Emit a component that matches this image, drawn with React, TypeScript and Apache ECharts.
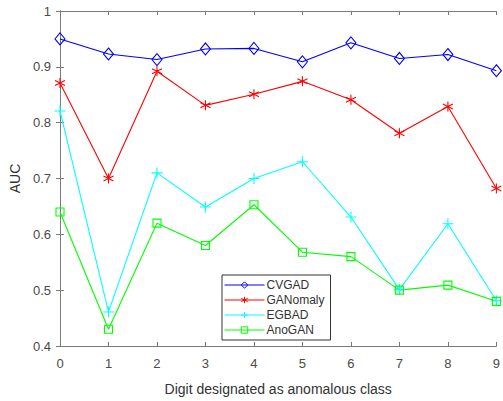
import React, { useEffect, useRef } from "react";
import * as echarts from "echarts";

const digits = [0, 1, 2, 3, 4, 5, 6, 7, 8, 9];
const cvgad = [0.95, 0.923, 0.913, 0.932, 0.933, 0.909, 0.943, 0.915, 0.922, 0.893];
const ganomaly = [0.871, 0.7, 0.892, 0.831, 0.851, 0.874, 0.841, 0.781, 0.829, 0.682];
const egbad = [0.821, 0.461, 0.71, 0.649, 0.7, 0.73, 0.631, 0.501, 0.619, 0.481];
const anogan = [0.64, 0.43, 0.62, 0.58, 0.653, 0.568, 0.56, 0.5, 0.509, 0.48];

const FONT = "Liberation Sans, Arial, sans-serif";
const AXIS = "#7a7a7a";
const LABEL = "#4a4a4a";

const STAR = "path://M0,-5L0,5M-4.33,-2.5L4.33,2.5M-4.33,2.5L4.33,-2.5";
const PLUS = "path://M0,-5L0,5M-5,0L5,0";

function mk(name: string, vals: number[], color: string, symbol: string, size: number | number[]) {
  return {
    name,
    type: "line",
    data: digits.map((d, i) => [d, vals[i]]),
    symbol,
    symbolSize: size,
    showAllSymbol: true,
    lineStyle: { color, width: 1.1 },
    itemStyle: { color: "rgba(255,255,255,0)", borderColor: color, borderWidth: 1.1 },
    emphasis: { disabled: true },
    z: 3,
  };
}

export default function App() {
  const ref = useRef<HTMLDivElement>(null);
  useEffect(() => {
    const chart = echarts.init(ref.current!, null, { renderer: "svg" });
    const fmt = (v: number) => (Math.round(v * 10) / 10).toString();
    chart.setOption({
      animation: false,
      backgroundColor: "#ffffff",
      textStyle: { fontFamily: FONT },
      grid: { left: 60, right: 6, top: 11, bottom: 46, containLabel: false },
      legend: {
        orient: "vertical",
        left: 222,
        top: 275,
        width: 110,
        padding: [4, 6, 4, 2],
        itemWidth: 40,
        itemHeight: 8,
        itemGap: 3,
        borderColor: "#333333",
        borderWidth: 1,
        backgroundColor: "#ffffff",
        lineStyle: { width: 1 },
        itemStyle: { borderWidth: 1 },
        textStyle: { fontFamily: FONT, fontSize: 12, color: "#333333", padding: [0, 0, 0, -3] },
        data: ["CVGAD", "GANomaly", "EGBAD", "AnoGAN"],
      },
      xAxis: [
        {
          type: "value",
          min: 0,
          max: 9,
          interval: 1,
          name: "Digit designated as anomalous class",
          nameLocation: "middle",
          nameGap: 36,
          nameTextStyle: { fontFamily: FONT, fontSize: 14, color: "#333333" },
          axisLine: { lineStyle: { color: AXIS, width: 1 } },
          axisTick: { inside: true, length: 4, lineStyle: { color: AXIS } },
          axisLabel: { color: LABEL, fontSize: 13, fontFamily: FONT, margin: 11 },
          splitLine: { show: false },
        },
        {
          type: "value",
          position: "top",
          min: 0,
          max: 9,
          interval: 1,
          axisLine: { show: true, lineStyle: { color: AXIS, width: 1 } },
          axisTick: { show: true, inside: true, length: 4, lineStyle: { color: AXIS } },
          axisLabel: { show: false },
          splitLine: { show: false },
        },
      ],
      yAxis: [
        {
          type: "value",
          min: 0.4,
          max: 1,
          interval: 0.1,
          name: "AUC",
          nameLocation: "middle",
          nameGap: 29,
          nameTextStyle: { fontFamily: FONT, fontSize: 14, color: "#333333" },
          axisLine: { show: true, lineStyle: { color: AXIS, width: 1 } },
          axisTick: { show: true, inside: true, length: 4, lineStyle: { color: AXIS } },
          axisLabel: { color: LABEL, fontSize: 13, fontFamily: FONT, margin: 9, formatter: fmt },
          splitLine: { show: false },
        },
        {
          type: "value",
          position: "right",
          min: 0.4,
          max: 1,
          interval: 0.1,
          axisLine: { show: true, lineStyle: { color: AXIS, width: 1 } },
          axisTick: { show: true, inside: true, length: 4, lineStyle: { color: AXIS } },
          axisLabel: { show: false },
          splitLine: { show: false },
        },
      ],
      series: [
        mk("CVGAD", cvgad, "#0000ff", "diamond", [10, 12]),
        mk("GANomaly", ganomaly, "#ff0000", STAR, 10),
        mk("EGBAD", egbad, "#00ffff", PLUS, 11),
        mk("AnoGAN", anogan, "#00ff00", "rect", 8),
      ],
    });
    return () => chart.dispose();
  }, []);
  return (
    <div
      ref={ref}
      style={{ position: "fixed", left: 0, top: 0, width: 503, height: 401, background: "#fff" }}
    />
  );
}
